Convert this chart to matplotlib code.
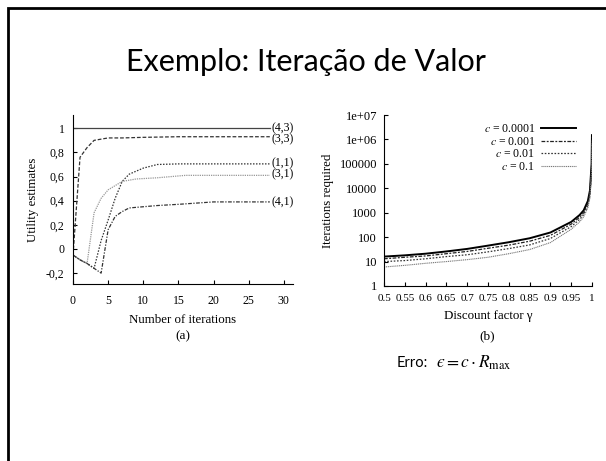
import matplotlib.pyplot as plt
from matplotlib.patches import Rectangle

plt.rcParams["font.family"] = "Liberation Serif"
plt.rcParams["mathtext.fontset"] = "stix"

# (a) utility estimates per iteration
iters_43 = [0, 28]
util_43 = [1.0, 1.0]
iters_33 = [0, 1, 2, 3, 4, 5, 7, 10, 15, 20, 28]
util_33 = [-0.05, 0.76, 0.84, 0.90, 0.91, 0.92, 0.92, 0.925, 0.93, 0.93, 0.93]
iters_11 = [0, 1, 2, 3, 4, 5, 6, 7, 8, 10, 12, 15, 20, 28]
util_11 = [-0.05, -0.09, -0.12, -0.16, 0.07, 0.24, 0.42, 0.56, 0.62, 0.67, 0.70, 0.705, 0.705, 0.705]
iters_31 = [0, 1, 2, 3, 4, 5, 7, 9, 12, 16, 20, 28]
util_31 = [-0.05, -0.09, -0.12, 0.30, 0.42, 0.49, 0.56, 0.58, 0.59, 0.61, 0.61, 0.61]
iters_41 = [0, 1, 2, 3, 4, 5, 6, 7, 8, 10, 12, 15, 20, 28]
util_41 = [-0.05, -0.09, -0.12, -0.16, -0.20, 0.16, 0.27, 0.31, 0.34, 0.35, 0.36, 0.37, 0.39, 0.39]
state_labels = ["(4,3)", "(3,3)", "(1,1)", "(3,1)", "(4,1)"]
label_y = [1.0, 0.91, 0.71, 0.62, 0.39]
a_yticks = [-0.2, 0, 0.2, 0.4, 0.6, 0.8, 1]
a_yticklabels = ["-0,2", "0", "0,2", "0,4", "0,6", "0,8", "1"]
a_xticks = [0, 5, 10, 15, 20, 25, 30]

# (b) iterations required vs discount factor
gamma = [0.5, 0.55, 0.6, 0.65, 0.7, 0.75, 0.8, 0.85, 0.9, 0.95, 0.97, 0.98, 0.99, 0.995, 0.999, 0.9999]
n_c0001 = [16, 18, 21, 26, 33, 45, 62, 90, 155, 420, 800, 1250, 3000, 8000, 100000, 1500000]
n_c001 = [13, 15, 17, 21, 26, 35, 47, 68, 118, 340, 650, 1000, 2400, 6500, 80000, 1200000]
n_c01 = [10, 11, 13, 16, 19, 25, 34, 48, 88, 270, 530, 830, 2000, 5000, 65000, 1000000]
n_c1 = [6, 7, 8.5, 10, 12, 15, 21, 31, 60, 210, 420, 680, 1600, 4000, 50000, 700000]
c_labels = ["$c$ = 0.0001", "$c$ = 0.001", "$c$ = 0.01", "$c$ = 0.1"]
b_yticks = [1, 10, 100, 1000, 10000, 100000, 1e6, 1e7]
b_yticklabels = ["1", "10", "100", "1000", "10000", "100000", "1e+06", "1e+07"]
b_xticks = [0.5, 0.55, 0.6, 0.65, 0.7, 0.75, 0.8, 0.85, 0.9, 0.95, 1.0]
b_xticklabels = ["0.5", "0.55", "0.6", "0.65", "0.7", "0.75", "0.8", "0.85", "0.9", "0.95", "1"]

W, H = 606, 461
fig = plt.figure(figsize=(W / 100, H / 100), dpi=100)

# slide border (only top and left edges are inside the crop)
fig.patches.append(Rectangle((8 / W, -0.5), 2, 1.5 - 8 / H, transform=fig.transFigure,
                             fill=False, lw=2, edgecolor="black"))

fig.text(306 / W, 1 - 62 / H, "Exemplo: Iteração de Valor", ha="center", va="center",
         fontsize=22, family="Lato")


def style_axes(ax):
    ax.spines["top"].set_visible(False)
    ax.spines["right"].set_visible(False)
    ax.tick_params(direction="in", length=3, width=0.8, labelsize=8.5, pad=6)


# panel (a)
ax1 = fig.add_axes([73 / W, 1 - 284 / H, 220 / W, 169 / H])
ax1.plot(iters_43, util_43, color="#444444", lw=0.9)
ax1.plot(iters_33, util_33, color="#333333", lw=0.9, linestyle=(0, (3, 1.5)))
ax1.plot(iters_11, util_11, color="#333333", lw=0.9, linestyle=(0, (1.2, 1.2)))
ax1.plot(iters_31, util_31, color="#999999", lw=0.9, linestyle=(0, (1, 0.8)))
ax1.plot(iters_41, util_41, color="#333333", lw=0.9, linestyle=(0, (3, 1.2, 1, 1.2)))
for lab, yv in zip(state_labels, label_y):
    ax1.text(28.3, yv, lab, fontsize=8.5, va="center", ha="left")
ax1.set_xlim(0, 31.3)
ax1.set_ylim(-0.29, 1.11)
ax1.set_xticks(a_xticks)
ax1.set_yticks(a_yticks)
ax1.set_yticklabels(a_yticklabels)
style_axes(ax1)
ax1.tick_params(axis="x", pad=8)
ax1.set_xlabel("Number of iterations", fontsize=9.3, labelpad=5)
ax1.set_ylabel("Utility estimates", fontsize=9.3, labelpad=5)
fig.text(183 / W, 1 - 336 / H, "(a)", ha="center", va="center", fontsize=9.5)

# panel (b)
ax2 = fig.add_axes([384 / W, 1 - 286 / H, 208 / W, 171 / H])
ax2.plot(gamma, n_c0001, color="black", lw=1.4, label=c_labels[0])
ax2.plot(gamma, n_c001, color="#222222", lw=0.9, linestyle=(0, (3, 1.2, 1.5, 1.2)), label=c_labels[1])
ax2.plot(gamma, n_c01, color="#333333", lw=0.9, linestyle=(0, (1.3, 1.3)), label=c_labels[2])
ax2.plot(gamma, n_c1, color="#777777", lw=0.8, linestyle=(0, (1, 0.7)), label=c_labels[3])
ax2.set_yscale("log")
ax2.set_xlim(0.5, 1.0)
ax2.set_ylim(1, 1e7)
ax2.set_yticks(b_yticks)
ax2.set_yticklabels(b_yticklabels)
ax2.minorticks_off()
ax2.set_xticks(b_xticks)
ax2.set_xticklabels(b_xticklabels)
style_axes(ax2)
ax2.tick_params(axis="x", labelsize=8)
ax2.tick_params(axis="y", labelsize=9, pad=5)
ax2.set_xlabel("Discount factor γ", fontsize=9.3, labelpad=5)
ax2.set_ylabel("Iterations required", fontsize=9.3, labelpad=4)
ax2.legend(loc="upper right", bbox_to_anchor=(0.965, 1.0), frameon=False, markerfirst=False,
           fontsize=8.5, handlelength=3.0, labelspacing=0.05, borderaxespad=0.3,
           handletextpad=0.5)
fig.text(487 / W, 1 - 336 / H, "(b)", ha="center", va="center", fontsize=9.5)

fig.text(397 / W, 1 - 363 / H, "Erro:", ha="left", va="center", fontsize=10.5, family="Lato")
fig.text(436 / W, 1 - 363 / H, "$\u03f5 = c \\cdot R_{\\max}$", ha="left", va="center",
         fontsize=12.5)

fig.savefig("out.png", dpi=100)
